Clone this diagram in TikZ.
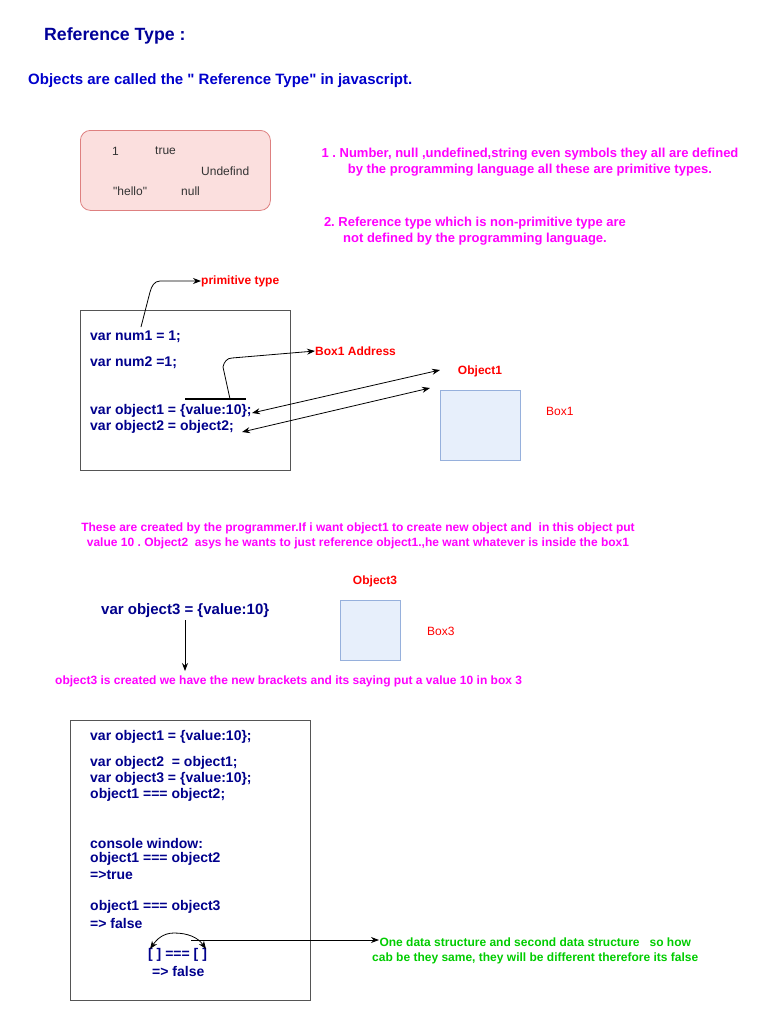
\documentclass[tikz,border=0pt]{standalone}
\usepackage{fontspec}
\setmainfont{Liberation Sans}[Ligatures=TeXOff]
\usetikzlibrary{arrows.meta}
\frenchspacing
\definecolor{titleblue}{RGB}{0,0,153}
\definecolor{subblue}{RGB}{0,0,204}
\definecolor{codeblue}{RGB}{0,0,140}
\definecolor{mag}{RGB}{255,0,255}
\definecolor{lred}{RGB}{255,0,0}
\definecolor{lgreen}{RGB}{0,204,0}
\definecolor{pinkfill}{RGB}{251,223,222}
\definecolor{pinkline}{RGB}{222,128,128}
\definecolor{boxfill}{RGB}{231,239,251}
\definecolor{boxline}{RGB}{150,176,220}
\definecolor{frame}{RGB}{85,85,85}
\tikzset{
  code/.style={inner sep=0pt, anchor=west, text=codeblue, font=\fontsize{14}{14}\selectfont\bfseries},
  mtext/.style={inner sep=0pt, align=center, text=mag, font=\fontsize{12}{15.5}\selectfont\bfseries},
  mbig/.style={mtext, font=\fontsize{13}{15.5}\selectfont\bfseries},
  redlbl/.style={inner sep=0pt, text=lred, font=\fontsize{12}{12}\selectfont\bfseries},
  redlbln/.style={inner sep=0pt, text=lred, font=\fontsize{12}{12}\selectfont},
  framebox/.style={draw=frame, line width=0.8pt},
  membox/.style={draw=boxline, fill=boxfill, line width=0.8pt},
  arr/.style={-{Stealth[length=8pt,width=6pt]}, line width=0.8pt},
  darr/.style={{Stealth[length=8pt,width=6pt]}-{Stealth[length=8pt,width=6pt]}, line width=0.8pt},
}
\begin{document}
\begin{tikzpicture}[x=1pt,y=-1pt]
\useasboundingbox (0,0) rectangle (761,1031);
% titles
\node[inner sep=0pt, anchor=west, text=titleblue, font=\fontsize{17.7}{18}\selectfont\bfseries] (title) at (44,36) {Reference Type :};
\node[inner sep=0pt, anchor=west, text=subblue, font=\fontsize{15}{15}\selectfont\bfseries] (sub) at (28,81) {Objects are called the " Reference Type" in javascript.};
% pink box
\node[draw=pinkline, fill=pinkfill, rounded corners=10pt, minimum width=190pt, minimum height=80pt, line width=0.8pt, anchor=north west] (pink) at (80,130) {};
\begin{scope}[every node/.style={inner sep=0pt, anchor=west, text=black!80, font=\fontsize{12}{12}\selectfont}]
\node (p1) at (112,151) {1};
\node (ptrue) at (155,151) {true};
\node (pundef) at (201,171) {Undefind};
\node (phello) at (113,191) {"hello"};
\node (pnull) at (181,191) {null};
\end{scope}
% magenta notes
\node[mbig] (note1) at (530,162) {1 . Number, null ,undefined,string even symbols they all are defined\\by the programming language all these are primitive types.};
\node[mbig] (note2) at (475,231) {2. Reference type which is non-primitive type are\\not defined by the programming language.};
% code box 1
\node[framebox, minimum width=210pt, minimum height=160pt, anchor=north west] (code1) at (80,310) {};
\node[code] (n1) at (90,337) {var num1 = 1;};
\node[code] (n2) at (90,363) {var num2 =1;};
\node[code] (o1) at (90,411) {var object1 = \{value:10\};};
\node[code] (o2) at (90,427) {var object2 = object2;};
% primitive type arrow
\node[redlbl, anchor=west] (prim) at (201,281) {primitive type};
\coordinate (primstart) at (141,327);
\draw[arr] (primstart) -- (150,292) to[out=75,in=180] (160,281) -- (prim.west);
% Box1 address
\coordinate (barL) at (185,399);
\coordinate (barR) at (246,399);
\draw[line width=1.6pt] (barL) -- (barR);
\node[redlbl, anchor=west] (addr) at (315,351) {Box1 Address};
\coordinate (addrstart) at (230,399);
\draw[arr] (addrstart) -- (223,367) to[out=80,in=180] (232,358) -- (addr.west);
% Object1 box
\node[redlbl] (obj1lbl) at (480,371) {Object1};
\node[membox, minimum width=80pt, minimum height=70pt, anchor=north west] (box1) at (440,390) {};
\node[redlbln, anchor=west] (box1lbl) at (546,411) {Box1};
\coordinate (a1L) at (252,413);
\coordinate (a1R) at (440,370);
\coordinate (a2L) at (242,432);
\coordinate (a2R) at (430,388);
\draw[darr] (a1L) -- (a1R);
\draw[darr] (a2L) -- (a2R);
% middle note
\node[mtext] (note3) at (358,536) {These are created by the programmer.If i want object1 to create new object and\ \ in this object put\\value 10 . Object2\ \ asys he wants to just reference object1.,he want whatever is inside the box1};
% object3
\node[redlbl] (obj3lbl) at (375,581) {Object3};
\node[membox, minimum width=60pt, minimum height=60pt, anchor=north west] (box3) at (340,600) {};
\node[redlbln, anchor=west] (box3lbl) at (427,631) {Box3};
\node[inner sep=0pt, anchor=west, text=codeblue, font=\fontsize{15}{15}\selectfont\bfseries] (o3) at (101,611) {var object3 = \{value:10\}};
\node[mtext, anchor=west] (note4) at (55,681) {object3 is created we have the new brackets and its saying put a value 10 in box 3};
\coordinate (o3arrs) at (185,620);
\draw[arr] (o3arrs) -- (185,671);
% code box 2
\node[framebox, minimum width=240pt, minimum height=280pt, anchor=north west] (code2) at (70,720) {};
\node[code] (c1) at (90,737) {var object1 = \{value:10\};};
\node[code] (c2) at (90,763) {var object2\ \ = object1;};
\node[code] (c3) at (90,779) {var object3 = \{value:10\};};
\node[code] (c4) at (90,795) {object1 === object2;};
\node[code] (c5) at (90,843) {console window:};
\node[code] (c6) at (90,859) {object1 === object2};
\node[code] (c7) at (90,875) {=>true};
\node[code] (c8) at (90,907) {object1 === object3};
\node[code] (c9) at (90,923) {=> false};
\node[code] (c10) at (148,955) {[ ] === [ ]};
\node[code] (c11) at (152,971) {=> false};
\coordinate (brL) at (150,949);
\coordinate (brR) at (206,949);
\coordinate (peak) at (174,933);
\draw[darr] (brL) to[out=55,in=180] (peak) to[out=0,in=125] (brR);
\node[inner sep=0pt, align=center, text=lgreen, font=\fontsize{12}{15.5}\selectfont\bfseries, anchor=west] (green) at (372,951) {One data structure and second data structure\ \ \ so how\\cab be they same, they will be different therefore its false};
\coordinate (gstart) at (191,940);
\draw[arr] (gstart) -- (379,940);
\end{tikzpicture}
\end{document}
